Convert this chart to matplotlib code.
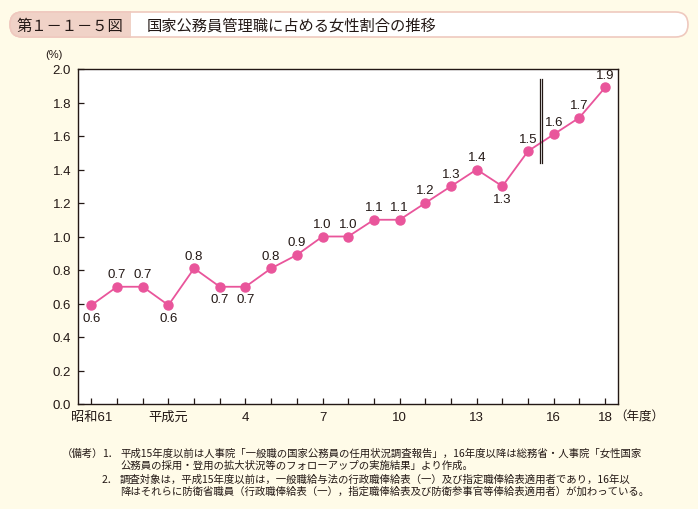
import matplotlib
matplotlib.use("Agg")
import matplotlib.pyplot as plt
from matplotlib.patches import FancyBboxPatch, Rectangle

plt.rcParams['font.family'] = ['Liberation Sans', 'Noto Sans CJK JP', 'DejaVu Sans']

# ---- data ----
x_index = list(range(21))
values = [0.59, 0.70, 0.70, 0.59, 0.81, 0.70, 0.70, 0.81, 0.89, 1.00, 1.00,
          1.10, 1.10, 1.20, 1.30, 1.40, 1.30, 1.51, 1.61, 1.71, 1.89]
label_below = [True, False, False, True, False, True, True, False, False, False, False,
               False, False, False, False, False, True, False, False, False, False]
tick_pos = [0, 3, 6, 9, 12, 15, 18, 20]
tick_labels = ["昭和61", "平成元", "4", "7", "10", "13", "16", "18"]
yticks = [0.0, 0.2, 0.4, 0.6, 0.8, 1.0, 1.2, 1.4, 1.6, 1.8, 2.0]

title_num = "第１－１－５図"
title = "国家公務員管理職に占める女性割合の推移"
notes = [
    ("（備考）", "1．", "平成15年度以前は人事院「一般職の国家公務員の任用状況調査報告」，16年度以降は総務省・人事院「女性国家"),
    ("", "", "公務員の採用・登用の拡大状況等のフォローアップの実施結果」より作成。"),
    ("", "2．", "調査対象は，平成15年度以前は，一般職給与法の行政職俸給表（一）及び指定職俸給表適用者であり，16年以"),
    ("", "", "降はそれらに防衛省職員（行政職俸給表（一），指定職俸給表及び防衛参事官等俸給表適用者）が加わっている。"),
]

W, H = 698, 510
bg = "#fffbe8"
pink = "#e9559b"
txt = "#231815"

fig = plt.figure(figsize=(W / 100, H / 100), dpi=100, facecolor=bg)

# overlay axes in pixel coordinates
ov = fig.add_axes([0, 0, 1, 1], zorder=0)
ov.set_xlim(0, W)
ov.set_ylim(H, 0)
ov.axis("off")
ov.patch.set_alpha(0)

# header pill
x0, x1, y0, y1 = 10, 688, 13, 38
r = (y1 - y0) / 2
pill_white = FancyBboxPatch((x0, y0), x1 - x0, y1 - y0,
                            boxstyle=f"round,pad=0,rounding_size={r}",
                            facecolor="white", edgecolor="#efc9bf", linewidth=1.2)
ov.add_patch(pill_white)
pill_pink = FancyBboxPatch((x0, y0), x1 - x0, y1 - y0,
                           boxstyle=f"round,pad=0,rounding_size={r}",
                           facecolor="#f0d2c7", edgecolor="#efc9bf", linewidth=1.2)
ov.add_patch(pill_pink)
clip = Rectangle((x0 - 2, y0 - 2), 131 - x0 + 2, y1 - y0 + 4, transform=ov.transData)
pill_pink.set_clip_path(clip)

ov.text(70, 26, title_num, ha="center", va="center", fontsize=11, color=txt,
        family=["Noto Sans CJK JP"])
ov.text(147, 26, title, ha="left", va="center", fontsize=11, color=txt,
        family=["Noto Sans CJK JP"])

# notes
ys = [454, 466, 480, 492]
for (a, b, c), yy in zip(notes, ys):
    if a:
        ov.text(62, yy, a, ha="left", va="center", fontsize=7.5, color=txt,
                family=["Noto Sans CJK JP"])
    if b:
        ov.text(102, yy, b, ha="left", va="center", fontsize=7.5, color=txt,
                family=["Noto Sans CJK JP"])
    ov.text(120, yy, c, ha="left", va="center", fontsize=7.5, color=txt,
            family=["Noto Sans CJK JP"])

# main chart
ax = fig.add_axes([78 / W, 1 - 405 / H, (618 - 78) / W, (405 - 70) / H], zorder=1)
ax.set_facecolor("white")
ax.plot(x_index, values, color=pink, linewidth=1.3, marker="o", markersize=6.5,
        markerfacecolor=pink, markeredgecolor=pink, zorder=3)

for xi, v, below in zip(x_index, values, label_below):
    ax.annotate(f"{v:.1f}", (xi, v), xytext=(0, -9 if below else 9),
                textcoords="offset points", ha="center", va="center",
                fontsize=9.5, color=txt)

# series break (double line)
ax.plot([17.46, 17.46], [1.44, 1.94], color=txt, linewidth=0.9, zorder=4)
ax.plot([17.56, 17.56], [1.44, 1.94], color=txt, linewidth=0.9, zorder=4)

ax.set_xlim(-0.52, 20.5)
ax.set_ylim(0, 2.0)
ax.set_xticks(x_index)
ax.set_xticklabels(["" for _ in x_index])
for p, lab in zip(tick_pos, tick_labels):
    ax.text(p, -0.04, lab, ha="center", va="top", fontsize=9.5, color=txt,
            transform=ax.transData)
ax.text(20.35, -0.04, "（年度）", ha="left", va="top", fontsize=9, color=txt)
ax.set_yticks(yticks)
ax.set_yticklabels([f"{t:.1f}" for t in yticks], fontsize=9.5, color=txt)
ax.tick_params(axis="both", direction="in", length=4.5, width=0.9, color=txt)
ax.tick_params(axis="y", pad=5)
for s in ax.spines.values():
    s.set_linewidth(1.0)
    s.set_color(txt)
ax.text(-0.045, 1.03, "(%)", transform=ax.transAxes, ha="center", va="bottom",
        fontsize=8, color=txt)

fig.savefig("out.png", dpi=100, facecolor=bg)
